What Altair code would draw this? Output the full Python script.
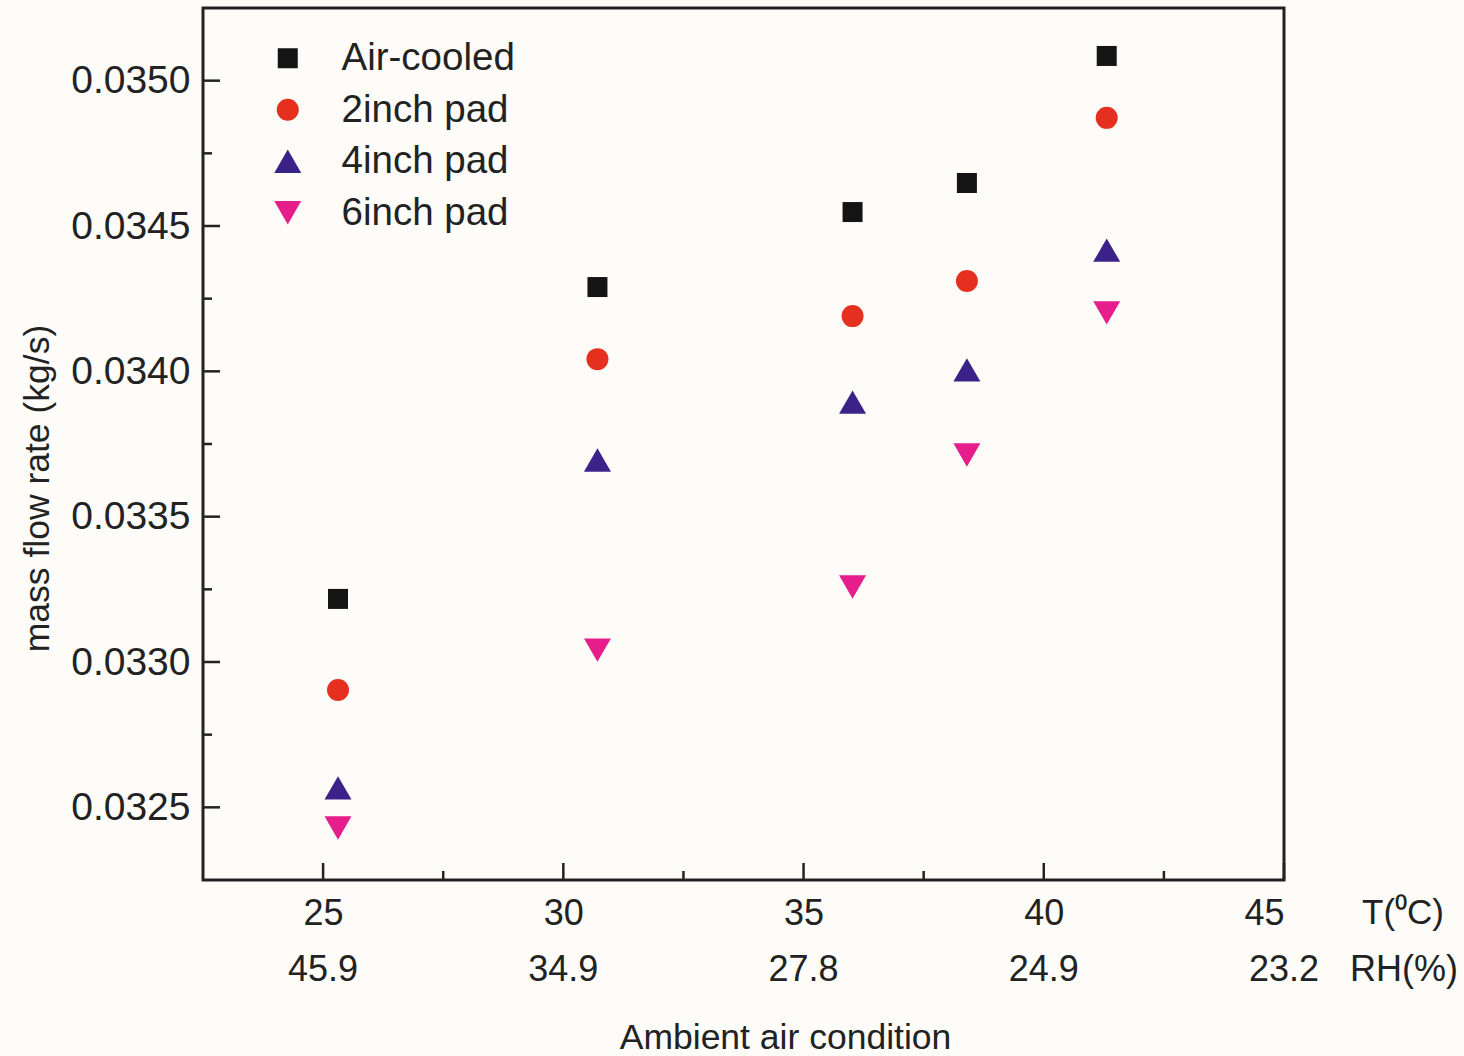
import altair as alt
import pandas as pd

# ---- data ----
series = ["Air-cooled", "2inch pad", "4inch pad", "6inch pad"]
temps = [25.31, 30.71, 36.02, 38.40, 41.31]
air_cooled = [0.033217, 0.034290, 0.034548, 0.034648, 0.035085]
pad2 = [0.032904, 0.034042, 0.034190, 0.034311, 0.034872]
pad4 = [0.032567, 0.033695, 0.033894, 0.034005, 0.034417]
pad6 = [0.032429, 0.033041, 0.033258, 0.033712, 0.034201]

t_ticks = [25, 30, 35, 40, 45]
rh_labels = ["45.9", "34.9", "27.8", "24.9", "23.2"]
t_minor = [27.5, 32.5, 37.5, 42.5]
y_major = [0.0325, 0.0330, 0.0335, 0.0340, 0.0345, 0.0350]
y_minor = [0.03275, 0.03325, 0.03375, 0.03425, 0.03475]

colors = ["#141414", "#e5301f", "#3b2289", "#e61e8c"]
shapes = ["square", "circle", "triangle-up", "triangle-down"]
sizes = [400, 484, 729, 729]

FONT = "Liberation Sans"
W, H = 1081, 872
XDOM = [22.5, 45]
YDOM = [0.03225, 0.03525]

rows = []
for name, vals in zip(series, [air_cooled, pad2, pad4, pad6]):
    for t, v in zip(temps, vals):
        rows.append({"T": t, "m": v, "series": name})
df = pd.DataFrame(rows)

xs = alt.Scale(domain=XDOM, nice=False, zero=False)
ys = alt.Scale(domain=YDOM, nice=False, zero=False)

legend = alt.Legend(
    title=None, orient="none", legendX=65.5, legendY=31,
    labelFont=FONT, labelFontSize=38.5, labelColor="#222222", labelLimit=0,
    labelOffset=34.5, rowPadding=12.5, padding=0, symbolStrokeWidth=0,
)

points = alt.Chart(df).mark_point(filled=True, opacity=1).encode(
    x=alt.X("T:Q", scale=xs, axis=alt.Axis(
        values=t_ticks, format="d", ticks=False, domain=False, grid=False,
        labelFont=FONT, labelFontSize=36, labelColor="#222222", labelPadding=16,
        title="Ambient air condition", titleFont=FONT, titleFontSize=35.5,
        titleFontWeight="normal", titleColor="#222222",
        titleAnchor="start", titleX=582, titleY=157, titleAlign="center",
        titleBaseline="middle",
    )),
    y=alt.Y("m:Q", scale=ys, axis=alt.Axis(
        values=y_major, format=".4f", ticks=False, domain=False, grid=False,
        labelFont=FONT, labelFontSize=39, labelColor="#222222", labelPadding=13,
        title="mass flow rate (kg/s)", titleFont=FONT, titleFontSize=35.5,
        titleFontWeight="normal", titleColor="#222222",
        titleX=-166, titleY=480, titleAngle=270, titleAlign="center",
        titleBaseline="middle", titleAnchor="start",
    )),
    color=alt.Color("series:N", scale=alt.Scale(domain=series, range=colors), legend=legend),
    shape=alt.Shape("series:N", scale=alt.Scale(domain=series, range=shapes), legend=legend),
    size=alt.Size("series:N", scale=alt.Scale(type="ordinal", domain=series, range=sizes), legend=legend),
)

ymaj = alt.Chart(pd.DataFrame({"v": y_major})).mark_rule(color="#222222", strokeWidth=2.5).encode(
    y=alt.Y("v:Q", scale=ys), x=alt.value(0), x2=alt.value(17))
ymin = alt.Chart(pd.DataFrame({"v": y_minor})).mark_rule(color="#222222", strokeWidth=2.5).encode(
    y=alt.Y("v:Q", scale=ys), x=alt.value(0), x2=alt.value(9))
xmaj = alt.Chart(pd.DataFrame({"v": t_ticks})).mark_rule(color="#222222", strokeWidth=2.5).encode(
    x=alt.X("v:Q", scale=xs), y=alt.value(H), y2=alt.value(H - 17))
xmin = alt.Chart(pd.DataFrame({"v": t_minor})).mark_rule(color="#222222", strokeWidth=2.5).encode(
    x=alt.X("v:Q", scale=xs), y=alt.value(H), y2=alt.value(H - 9))

rh = alt.Chart(pd.DataFrame({"T": t_ticks, "lab": rh_labels})).mark_text(
    font=FONT, fontSize=36, color="#222222", baseline="middle", align="center"
).encode(x=alt.X("T:Q", scale=xs), y=alt.value(962), text="lab:N")

unit_t = alt.Chart(pd.DataFrame({"lab": ["T(⁰C)"]})).mark_text(
    font=FONT, fontSize=35, color="#222222", baseline="middle", align="left"
).encode(x=alt.value(1159), y=alt.value(905), text="lab:N")
unit_rh = alt.Chart(pd.DataFrame({"lab": ["RH(%)"]})).mark_text(
    font=FONT, fontSize=36, color="#222222", baseline="middle", align="left"
).encode(x=alt.value(1147), y=alt.value(962), text="lab:N")

chart = alt.layer(ymaj, ymin, xmaj, xmin, points, rh, unit_t, unit_rh).properties(
    width=W, height=H,
    autosize=alt.AutoSizeParams(type="none"),
    padding={"left": 203, "top": 8, "right": 180, "bottom": 176},
    background="#fdfcf8",
).configure_view(stroke="#222222", strokeWidth=3)

chart.save("out.html", embed_options={"renderer": "svg", "actions": False})
